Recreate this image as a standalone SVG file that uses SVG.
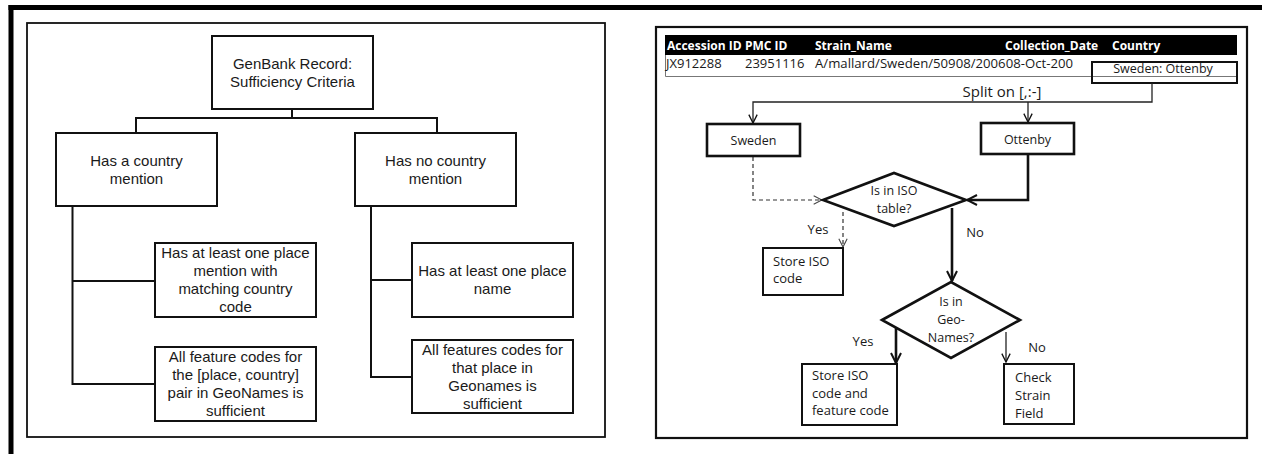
<svg xmlns="http://www.w3.org/2000/svg" width="1262" height="454" viewBox="0 0 1262 454">
<defs>
<style>
.t{font-family:"Open Sans","Noto Sans",sans-serif;fill:#1a1a1a}
.l15{font-family:"Liberation Sans",Arial,sans-serif;font-size:15px}
.r13{font-size:13px}
.c{text-anchor:middle}
.box{fill:#fff;stroke:#111;stroke-width:2}
.tbox{fill:#fff;stroke:#111;stroke-width:2.6}
.ln{fill:none;stroke:#111;stroke-width:2}
.thick{fill:none;stroke:#111;stroke-width:2.6}
.thin{fill:none;stroke:#222;stroke-width:1.3}
.dash{fill:none;stroke:#333;stroke-width:1.2;stroke-dasharray:4 3}
.hd{font-family:"Open Sans","Noto Sans",sans-serif;font-size:12px;font-weight:bold;fill:#fff}
.dt{font-family:"Open Sans","Noto Sans",sans-serif;font-size:13px;fill:#1a1a1a}
</style>
<marker id="aBig" viewBox="0 0 12 12" refX="11" refY="6" markerWidth="12" markerHeight="12" markerUnits="userSpaceOnUse" orient="auto">
<path d="M1,1 L11,6 L1,11" fill="none" stroke="#111" stroke-width="2"/>
</marker>
<marker id="aMid" viewBox="0 0 12 12" refX="11" refY="6" markerWidth="10" markerHeight="10" markerUnits="userSpaceOnUse" orient="auto">
<path d="M1,1 L11,6 L1,11" fill="none" stroke="#111" stroke-width="1.6"/>
</marker>
<marker id="aDash" viewBox="0 0 12 12" refX="11" refY="6" markerWidth="10" markerHeight="10" markerUnits="userSpaceOnUse" orient="auto">
<path d="M1,1 L11,6 L1,11" fill="none" stroke="#444" stroke-width="1.3"/>
</marker>
</defs>
<rect x="0" y="0" width="1262" height="454" fill="#fff"/>
<!-- outer heavy border -->
<g id="frame">
<line x1="8.5" y1="7.5" x2="1262" y2="7.5" stroke="#000" stroke-width="5"/>
<line x1="11" y1="5" x2="11" y2="454" stroke="#000" stroke-width="5"/>
<rect x="27" y="23" width="578" height="414" fill="none" stroke="#111" stroke-width="1.8"/>
<rect x="656" y="27" width="591" height="411" fill="none" stroke="#111" stroke-width="2.2"/>
</g>

<!-- LEFT PANEL connectors -->
<g id="left-connectors">
<path class="ln" d="M292,109 V118 M136,133 V118 H437 V133"/>
<path class="ln" d="M72.5,206 V384 H155 M72.5,281 H155"/>
<path class="ln" d="M371,206 V377 H412 M371,280 H412"/>
</g>

<g id="root">
<rect class="box" x="212" y="36" width="161" height="73"/>
<text class="t l15 c" x="292.5" y="68.5">GenBank Record:</text>
<text class="t l15 c" x="292.5" y="86.5">Sufficiency Criteria</text>
</g>
<g id="has-country">
<rect class="box" x="56" y="133" width="161" height="73"/>
<text class="t l15 c" x="136.5" y="166">Has a country</text>
<text class="t l15 c" x="136.5" y="183.5">mention</text>
</g>
<g id="no-country">
<rect class="box" x="355" y="133" width="161" height="73"/>
<text class="t l15 c" x="435.5" y="166">Has no country</text>
<text class="t l15 c" x="435.5" y="183.5">mention</text>
</g>
<g id="place-mention">
<rect class="box" x="155" y="243" width="161" height="74"/>
<text class="t l15 c" x="235.5" y="258">Has at least one place</text>
<text class="t l15 c" x="235.5" y="276">mention with</text>
<text class="t l15 c" x="235.5" y="294">matching country</text>
<text class="t l15 c" x="235.5" y="312">code</text>
</g>
<g id="feature-codes-pair">
<rect class="box" x="155" y="347" width="161" height="74"/>
<text class="t l15 c" x="235.5" y="362">All feature codes for</text>
<text class="t l15 c" x="235.5" y="380">the [place, country]</text>
<text class="t l15 c" x="235.5" y="398">pair in GeoNames is</text>
<text class="t l15 c" x="235.5" y="416">sufficient</text>
</g>
<g id="place-name">
<rect class="box" x="412" y="243" width="161" height="74"/>
<text class="t l15 c" x="492.5" y="275.5">Has at least one place</text>
<text class="t l15 c" x="492.5" y="293.5">name</text>
</g>
<g id="feature-codes-place">
<rect class="box" x="412" y="340" width="161" height="73"/>
<text class="t l15 c" x="492.5" y="355">All features codes for</text>
<text class="t l15 c" x="492.5" y="373">that place in</text>
<text class="t l15 c" x="492.5" y="391">Geonames is</text>
<text class="t l15 c" x="492.5" y="409">sufficient</text>
</g>

<!-- RIGHT PANEL: table -->
<g id="table">
<rect x="665" y="35" width="572" height="20" fill="#000"/>
<text class="hd" x="667" y="50">Accession ID</text>
<text class="hd" x="745" y="50">PMC ID</text>
<text class="hd" x="815" y="50">Strain_Name</text>
<text class="hd" x="1005" y="50">Collection_Date</text>
<text class="hd" x="1112" y="50">Country</text>
<path d="M665.5,55 V76.5 H1237" fill="none" stroke="#777" stroke-width="1"/>
<text class="dt" x="666" y="68">JX912288</text>
<text class="dt" x="745" y="68">23951116</text>
<text class="dt" x="815" y="68" textLength="258" lengthAdjust="spacingAndGlyphs">A/mallard/Sweden/50908/200608-Oct-200</text>
</g>
<g id="country-cell">
<rect x="1092" y="62" width="145" height="21" fill="none" stroke="#111" stroke-width="2"/>
<text class="dt c" x="1163" y="73" style="font-size:12.5px">Sweden: Ottenby</text>
</g>

<!-- RIGHT PANEL connectors -->
<g id="right-connectors">
<path class="thin" d="M1152,83 V102 H753 V123" marker-end="url(#aMid)"/>
<path class="thin" d="M1028,102 V122" marker-end="url(#aMid)"/>
<path class="dash" d="M753,157 V200 H822" marker-end="url(#aDash)"/>
<path class="thick" d="M1028,154 V200 H967" marker-end="url(#aBig)"/>
<path class="dash" d="M843,212 V247" marker-end="url(#aDash)"/>
<path class="thick" d="M952,208 V281" marker-end="url(#aBig)"/>
<path class="thick" d="M896,327 V363" marker-end="url(#aBig)"/>
<path class="thin" d="M1006,332 V362" marker-end="url(#aMid)"/>
<text class="t c" style="font-size:15px" x="1002" y="97">Split on [,:-]</text>
<text class="t c r13" x="818" y="234">Yes</text>
<text class="t c r13" x="975" y="237">No</text>
<text class="t c r13" x="863" y="346">Yes</text>
<text class="t c r13" x="1037" y="352">No</text>
</g>

<g id="sweden">
<rect class="tbox" x="707" y="124" width="93" height="32"/>
<text class="t c" style="font-size:12.5px" x="753.5" y="145">Sweden</text>
</g>
<g id="ottenby">
<rect class="tbox" x="981" y="123" width="93" height="31"/>
<text class="t c" style="font-size:12.5px" x="1027.5" y="144">Ottenby</text>
</g>
<g id="iso-decision">
<polygon class="tbox" points="823,200 894,173 966,200 894,226"/>
<text class="t c" style="font-size:12.5px" x="894" y="195">Is in ISO</text>
<text class="t c" style="font-size:12.5px" x="894" y="213">table?</text>
</g>
<g id="store-iso">
<rect class="box" x="763" y="248" width="80" height="47"/>
<text class="t r13" x="773" y="266">Store ISO</text>
<text class="t r13" x="773" y="283">code</text>
</g>
<g id="geonames-decision">
<polygon class="tbox" points="882,320 951,282 1020,320 951,358"/>
<text class="t c" style="font-size:12.5px" x="951" y="306">Is in</text>
<text class="t c" style="font-size:12.5px" x="951" y="324">Geo-</text>
<text class="t c" style="font-size:12.5px" x="951" y="342">Names?</text>
</g>
<g id="store-iso-feature">
<rect class="box" x="802" y="364" width="95" height="61"/>
<text class="t r13" x="812" y="380">Store ISO</text>
<text class="t r13" x="812" y="397.5">code and</text>
<text class="t r13" x="812" y="415">feature code</text>
</g>
<g id="check-strain">
<rect class="box" x="1004" y="364" width="70" height="60"/>
<text class="t r13" x="1015" y="382">Check</text>
<text class="t r13" x="1015" y="400">Strain</text>
<text class="t r13" x="1015" y="418">Field</text>
</g>
</svg>
